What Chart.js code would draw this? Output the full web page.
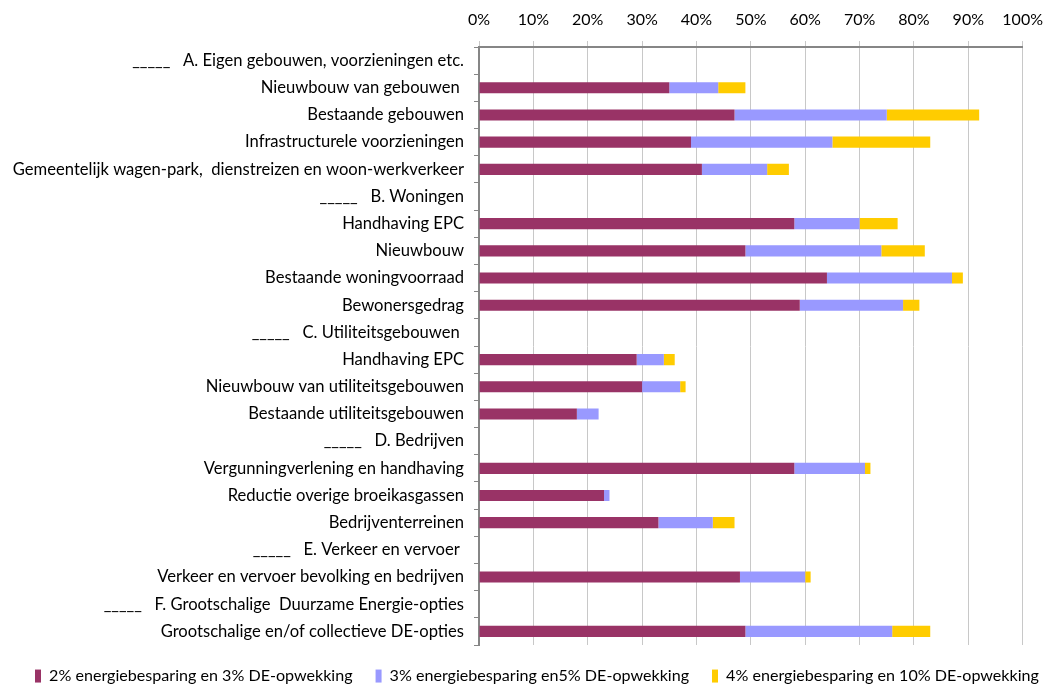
<!DOCTYPE html>
<html>
<head>
<meta charset="utf-8">
<script src="https://cdn.jsdelivr.net/npm/chart.js@4/dist/chart.umd.min.js"></script>
<style>
  html, body { margin: 0; padding: 0; background: #ffffff; }
  #wrap { width: 1055px; height: 685px; }
</style>
</head>
<body>
<div id="wrap"><canvas id="c" width="1055" height="685"></canvas></div>
<script>
const categories = [
  "_____   A. Eigen gebouwen, voorzieningen etc.",
  "Nieuwbouw van gebouwen ",
  "Bestaande gebouwen",
  "Infrastructurele voorzieningen",
  "Gemeentelijk wagen-park,  dienstreizen en woon-werkverkeer",
  "_____   B. Woningen",
  "Handhaving EPC",
  "Nieuwbouw",
  "Bestaande woningvoorraad",
  "Bewonersgedrag",
  "_____   C. Utiliteitsgebouwen ",
  "Handhaving EPC",
  "Nieuwbouw van utiliteitsgebouwen",
  "Bestaande utiliteitsgebouwen",
  "_____   D. Bedrijven",
  "Vergunningverlening en handhaving",
  "Reductie overige broeikasgassen",
  "Bedrijventerreinen",
  "_____   E. Verkeer en vervoer ",
  "Verkeer en vervoer bevolking en bedrijven",
  "_____   F. Grootschalige  Duurzame Energie-opties",
  "Grootschalige en/of collectieve DE-opties"
];
const seriesNames = [
  "2% energiebesparing en 3% DE-opwekking",
  "3% energiebesparing en5% DE-opwekking",
  "4% energiebesparing en 10% DE-opwekking"
];
const serie2pct = [null, 35, 47, 39, 41, null, 58, 49, 64, 59, null, 29, 30, 18, null, 58, 23, 33, null, 48, null, 49];
const serie3pct = [null,  9, 28, 26, 12, null, 12, 25, 23, 19, null,  5,  7,  4, null, 13,  1, 10, null, 12, null, 27];
const serie4pct = [null,  5, 17, 18,  4, null,  7,  8,  2,  3, null,  2,  1,  0, null,  1,  0,  4, null,  1, null,  7];
const tickValues = [0, 10, 20, 30, 40, 50, 60, 70, 80, 90, 100];

const colors = ["#993366", "#9999FF", "#FFCC00"];
const FONT = "Lato";
const LEGEND_HEIGHT = 40;
const LEGEND_PAD = 23;
const LEGEND_START_X = 35;

const legendSizer = {
  id: "legendSizer",
  beforeLayout(chart) {
    const lg = chart.legend;
    if (lg && !lg._sized) {
      const orig = lg.fit.bind(lg);
      lg.fit = function () {
        this.maxWidth = 1400;
        orig();
        this.height = LEGEND_HEIGHT;
      };
      lg._sized = true;
    }
  },
  afterLayout(chart) {
    const lg = chart.legend;
    if (lg) {
      lg.left = LEGEND_START_X - LEGEND_PAD;
      lg.right = 1400;
      lg.width = lg.right - lg.left;
    }
  }
};

const ctx = document.getElementById("c").getContext("2d");
new Chart(ctx, {
  type: "bar",
  data: {
    labels: categories,
    datasets: [serie2pct, serie3pct, serie4pct].map((d, i) => ({
      label: seriesNames[i],
      data: d,
      backgroundColor: colors[i],
      borderWidth: 0,
      barPercentage: 0.41,
      categoryPercentage: 1.0
    }))
  },
  plugins: [legendSizer],
  options: {
    indexAxis: "y",
    responsive: false,
    animation: false,
    devicePixelRatio: 1,
    layout: { padding: { left: 0, right: 31, top: 0, bottom: 0 } },
    scales: {
      x: {
        position: "top",
        stacked: true,
        min: 0,
        max: 100,
        afterFit: (s) => { s.height = 47; },
        afterBuildTicks: (s) => { s.ticks = tickValues.map(v => ({ value: v })); },
        ticks: {
          callback: (v) => v + "%",
          color: "#000000",
          font: { family: FONT, size: 16 },
          padding: 12,
          maxRotation: 0
        },
        grid: { color: "#C8C8C8", lineWidth: 1, tickLength: 6 },
        border: { color: "#868686", width: 2 }
      },
      y: {
        stacked: true,
        afterFit: (s) => { s.width = 479; },
        ticks: {
          color: "#000000",
          font: { family: FONT, size: 16.6 },
          padding: 10,
          autoSkip: false
        },
        grid: { offset: true, drawOnChartArea: false, color: "#868686", tickLength: 5, lineWidth: 1 },
        border: { color: "#868686", width: 2 }
      }
    },
    plugins: {
      tooltip: { enabled: false },
      legend: {
        position: "bottom",
        align: "start",
        labels: {
          boxWidth: 6,
          boxHeight: 13,
          padding: LEGEND_PAD,
          color: "#000000",
          font: { family: FONT, size: 16.1 }
        }
      }
    }
  }
});
</script>
</body>
</html>
